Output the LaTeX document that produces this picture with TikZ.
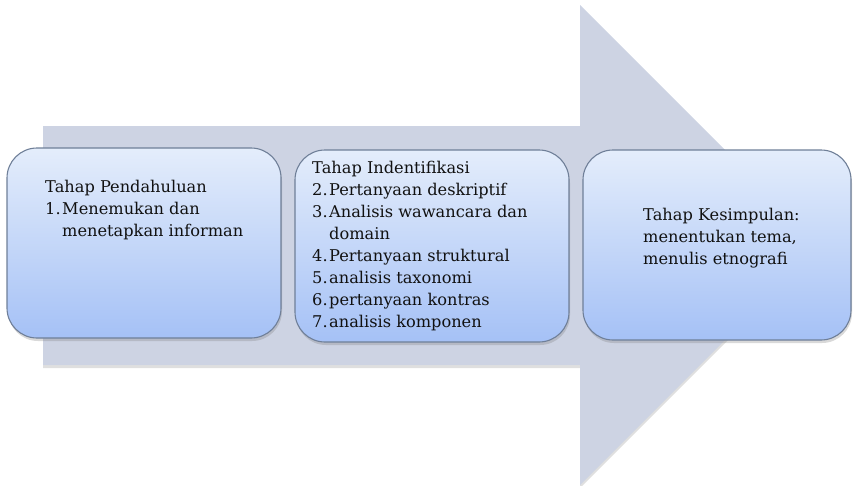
\documentclass[tikz,border=0pt]{standalone}
\usepackage{fontspec}
\setmainfont{DejaVu Serif}
\usetikzlibrary{shadows}
\definecolor{arrowfill}{HTML}{CDD3E3}
\definecolor{boxtop}{HTML}{E4EDFB}
\definecolor{boxbot}{HTML}{A5C1F6}
\definecolor{boxline}{HTML}{6F7F98}
\definecolor{txt}{HTML}{111111}
\tikzset{
  stagebox/.style={rectangle, rounded corners=30pt, draw=boxline, line width=1.1pt,
    top color=boxtop, bottom color=boxbot,
    drop shadow={opacity=0.3, shadow xshift=1pt, shadow yshift=-3pt},
    inner sep=0pt},
  stagetext/.style={anchor=base west, inner sep=0pt, text=txt,
    font=\fontsize{16.2}{22}\selectfont},
}
\newcommand{\numi}[1]{\makebox[17pt][l]{#1}}
\begin{document}
\begin{tikzpicture}[x=1pt, y=-1pt]
\useasboundingbox (0,0) rectangle (853,485);
% big arrow
\fill[arrowfill, drop shadow={opacity=0.25, shadow xshift=0pt, shadow yshift=-3pt}]
  (43,126) -- (580,126) -- (580,5) -- (820,245) -- (580,485) -- (580,365) -- (43,365) -- cycle;
% boxes
\node[stagebox, minimum width=274pt, minimum height=190pt] (b1) at (144,243) {};
\node[stagebox, minimum width=274pt, minimum height=192pt] (b2) at (432,246) {};
\node[stagebox, minimum width=268pt, minimum height=190pt] (b3) at (717,245) {};
% texts
\node[stagetext] (t1) at (45,192) {\begin{tabular}[t]{@{}l@{}l@{}}
\multicolumn{2}{@{}l@{}}{Tahap Pendahuluan}\\
\numi{1.}&Menemukan dan\\
&menetapkan informan
\end{tabular}};
\node[stagetext] (t2) at (312,173) {\begin{tabular}[t]{@{}l@{}l@{}}
\multicolumn{2}{@{}l@{}}{Tahap Indentifikasi}\\
\numi{2.}&Pertanyaan deskriptif\\
\numi{3.}&Analisis wawancara dan\\
&domain\\
\numi{4.}&Pertanyaan struktural\\
\numi{5.}&analisis taxonomi\\
\numi{6.}&pertanyaan kontras\\
\numi{7.}&analisis komponen
\end{tabular}};
\node[stagetext] (t3) at (643,220) {\begin{tabular}[t]{@{}l@{}}
Tahap Kesimpulan:\\
menentukan tema,\\
menulis etnografi
\end{tabular}};
\end{tikzpicture}
\end{document}
